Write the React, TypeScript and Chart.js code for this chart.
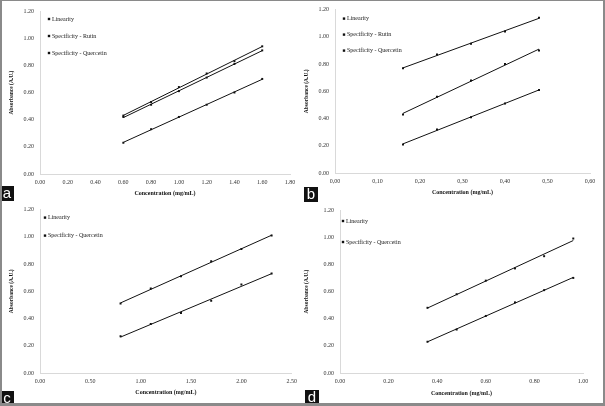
import React, { useEffect, useRef } from "react";
import { Chart, registerables } from "chart.js";

Chart.register(...registerables);

// ---------- Data ----------
// Panel a
const xA = [0.6, 0.8, 1.0, 1.2, 1.4, 1.6];
const linA = [0.23, 0.33, 0.42, 0.51, 0.6, 0.7];
const rutA = [0.42, 0.51, 0.61, 0.71, 0.81, 0.91];
const queA = [0.43, 0.53, 0.64, 0.74, 0.83, 0.94];
// Panel b
const xB = [0.16, 0.24, 0.32, 0.4, 0.48];
const linB = [0.21, 0.32, 0.41, 0.51, 0.61];
const rutB = [0.43, 0.56, 0.68, 0.8, 0.9];
const queB = [0.77, 0.87, 0.95, 1.04, 1.14];
// Panel c
const xC = [0.8, 1.1, 1.4, 1.7, 2.0, 2.3];
const linC = [0.27, 0.36, 0.44, 0.53, 0.65, 0.73];
const queC = [0.51, 0.62, 0.71, 0.82, 0.91, 1.01];
// Panel d
const xD = [0.36, 0.48, 0.6, 0.72, 0.84, 0.96];
const linD = [0.23, 0.32, 0.42, 0.52, 0.61, 0.7];
const queD = [0.48, 0.58, 0.68, 0.77, 0.86, 0.99];

const LBL_LIN = "Linearity";
const LBL_RUT = "Specificity - Rutin";
const LBL_QUE = "Specificity - Quercetin";
const X_TITLE = "Concentration (mg/mL)";
const Y_TITLE = "Absorbance (A.U.)";

const SERIF = '"Liberation Serif", "Times New Roman", serif';

type Series = { label: string; ys: number[] };
type Panel = {
  key: string;
  xs: number[];
  series: Series[];
  xMax: number;
  xStep: number;
  comma: boolean;
  box: { left: number; top: number; w: number; h: number };
  area: { l: number; r: number; t: number; b: number };
  yTitlePad: number;
  xTitlePad: number;
  legend: { dx: number; dy: number; gap: number };
  tag: { left: number; top: number };
};

const panels: Panel[] = [
  {
    key: "a",
    xs: xA,
    series: [
      { label: LBL_LIN, ys: linA },
      { label: LBL_RUT, ys: rutA },
      { label: LBL_QUE, ys: queA },
    ],
    xMax: 1.8,
    xStep: 0.2,
    comma: false,
    box: { left: 0, top: 0, w: 302, h: 200 },
    area: { l: 40, r: 290, t: 11, b: 174 },
    yTitlePad: 8.5,
    xTitlePad: 3.4,
    legend: { dx: 9, dy: 8, gap: 17 },
    tag: { left: 0, top: 186 },
  },
  {
    key: "b",
    xs: xB,
    series: [
      { label: LBL_LIN, ys: linB },
      { label: LBL_RUT, ys: rutB },
      { label: LBL_QUE, ys: queB },
    ],
    xMax: 0.6,
    xStep: 0.1,
    comma: true,
    box: { left: 302, top: 0, w: 303, h: 200 },
    area: { l: 33, r: 288, t: 9, b: 173 },
    yTitlePad: 1.5,
    xTitlePad: 4.4,
    legend: { dx: 9, dy: 9, gap: 16 },
    tag: { left: 304, top: 187 },
  },
  {
    key: "c",
    xs: xC,
    series: [
      { label: LBL_LIN, ys: linC },
      { label: LBL_QUE, ys: queC },
    ],
    xMax: 2.5,
    xStep: 0.5,
    comma: false,
    box: { left: 0, top: 200, w: 302, h: 206 },
    area: { l: 40, r: 292, t: 8, b: 173 },
    yTitlePad: 8.5,
    xTitlePad: 10.4,
    legend: { dx: 5, dy: 8, gap: 18 },
    tag: { left: 0, top: 391 },
  },
  {
    key: "d",
    xs: xD,
    series: [
      { label: LBL_LIN, ys: linD },
      { label: LBL_QUE, ys: queD },
    ],
    xMax: 1.0,
    xStep: 0.2,
    comma: false,
    box: { left: 302, top: 200, w: 303, h: 206 },
    area: { l: 38, r: 281, t: 10, b: 173 },
    yTitlePad: 1.5,
    xTitlePad: 9.4,
    legend: { dx: 3, dy: 11, gap: 21 },
    tag: { left: 305, top: 390 },
  },
];

// least-squares trendline endpoints from the data
function trend(xs: number[], ys: number[]) {
  const n = xs.length;
  const mx = xs.reduce((s, v) => s + v, 0) / n;
  const my = ys.reduce((s, v) => s + v, 0) / n;
  let sxy = 0;
  let sxx = 0;
  for (let i = 0; i < n; i++) {
    sxy += (xs[i] - mx) * (ys[i] - my);
    sxx += (xs[i] - mx) * (xs[i] - mx);
  }
  const k = sxy / sxx;
  const b = my - k * mx;
  return [
    { x: xs[0], y: k * xs[0] + b },
    { x: xs[n - 1], y: k * xs[n - 1] + b },
  ];
}

const insideLegend = {
  id: "insideLegend",
  afterDatasetsDraw(chart: any, _args: any, opts: any) {
    const { ctx, chartArea } = chart;
    ctx.save();
    ctx.font = `6px ${SERIF}`;
    ctx.textBaseline = "middle";
    ctx.textAlign = "left";
    let i = 0;
    chart.data.datasets.forEach((ds: any) => {
      if (ds.isTrend) return;
      const x = chartArea.left + opts.dx;
      const y = chartArea.top + opts.dy + i * opts.gap;
      ctx.fillStyle = "#111";
      ctx.fillRect(x - 1.2, y - 1.2, 2.4, 2.4);
      ctx.fillStyle = "#1a1a1a";
      ctx.fillText(ds.label, x + 3, y);
      i++;
    });
    ctx.restore();
  },
};

function PanelChart({ p }: { p: Panel }) {
  const ref = useRef<HTMLCanvasElement | null>(null);
  useEffect(() => {
    if (!ref.current) return;
    const datasets: any[] = [];
    p.series.forEach((s) => {
      datasets.push({
        label: s.label + " trend",
        isTrend: true,
        data: trend(p.xs, s.ys),
        showLine: true,
        borderColor: "#111",
        borderWidth: 1,
        pointRadius: 0,
        order: 2,
      });
    });
    p.series.forEach((s) => {
      datasets.push({
        label: s.label,
        data: p.xs.map((x, i) => ({ x, y: s.ys[i] })),
        showLine: false,
        pointStyle: "rect",
        pointRadius: 1.4,
        pointBackgroundColor: "#111",
        pointBorderColor: "#111",
        pointBorderWidth: 0,
        order: 1,
      });
    });
    const chart = new Chart(ref.current, {
      type: "scatter",
      data: { datasets },
      plugins: [insideLegend as any],
      options: {
        animation: false,
        responsive: false,
        maintainAspectRatio: false,
        events: [],
        layout: {
          padding: {
            left: 0,
            right: p.box.w - p.area.r,
            top: p.area.t,
            bottom: 0,
          },
        },
        plugins: {
          legend: { display: false },
          tooltip: { enabled: false },
          insideLegend: p.legend,
        } as any,
        scales: {
          x: {
            type: "linear",
            min: 0,
            max: p.xMax,
            ticks: {
              stepSize: p.xStep,
              padding: 5,
              color: "#333",
              font: { family: SERIF, size: 6 },
              maxRotation: 0,
              autoSkip: false,
              callback: (v: any) => {
                const s = Number(v).toFixed(2);
                return p.comma ? s.replace(".", ",") : s;
              },
            },
            grid: { display: true, drawOnChartArea: false, drawTicks: false },
            border: { display: true, color: "#d9d9d9", width: 1 },
            title: {
              display: true,
              text: X_TITLE,
              color: "#111",
              font: { family: SERIF, size: 6, weight: "bold" },
              padding: { top: 0, bottom: p.xTitlePad },
            },
            afterFit: (s: any) => {
              s.height = p.box.h - p.area.b;
            },
          },
          y: {
            type: "linear",
            min: 0,
            max: 1.2,
            ticks: {
              stepSize: 0.2,
              padding: 6,
              color: "#333",
              font: { family: SERIF, size: 6 },
              callback: (v: any) => Number(v).toFixed(2),
            },
            grid: { display: true, drawOnChartArea: false, drawTicks: false },
            border: { display: true, color: "#d9d9d9", width: 1 },
            title: {
              display: true,
              text: Y_TITLE,
              color: "#111",
              font: { family: SERIF, size: 5.5, weight: "bold" },
              padding: { top: p.yTitlePad, bottom: 0 },
            },
            afterFit: (s: any) => {
              s.width = p.area.l;
            },
          },
        },
      } as any,
    });
    return () => chart.destroy();
  }, [p]);

  return (
    <canvas
      ref={ref}
      width={p.box.w}
      height={p.box.h}
      style={{
        position: "absolute",
        left: p.box.left,
        top: p.box.top,
        width: p.box.w,
        height: p.box.h,
      }}
    />
  );
}

export default function App() {
  return (
    <div
      style={{
        position: "fixed",
        left: 0,
        top: 0,
        width: 605,
        height: 406,
        background: "#fff",
        overflow: "hidden",
      }}
    >
      {panels.map((p) => (
        <PanelChart key={p.key} p={p} />
      ))}
      {panels.map((p) => (
        <div
          key={"tag" + p.key}
          style={{
            position: "absolute",
            left: p.tag.left,
            top: p.tag.top,
            width: 14,
            height: 15,
            background: "#111",
            color: "#fff",
            fontFamily: '"Liberation Sans", Arial, sans-serif',
            fontSize: 15,
            lineHeight: "14px",
            textAlign: "center",
          }}
        >
          {p.key}
        </div>
      ))}
      <div
        style={{
          position: "absolute",
          left: 0,
          top: 0,
          width: 605,
          height: 406,
          boxSizing: "border-box",
          borderStyle: "solid",
          borderColor: "#8a8a8a",
          borderWidth: "1px 2px 3px 2px",
          pointerEvents: "none",
        }}
      />
    </div>
  );
}
